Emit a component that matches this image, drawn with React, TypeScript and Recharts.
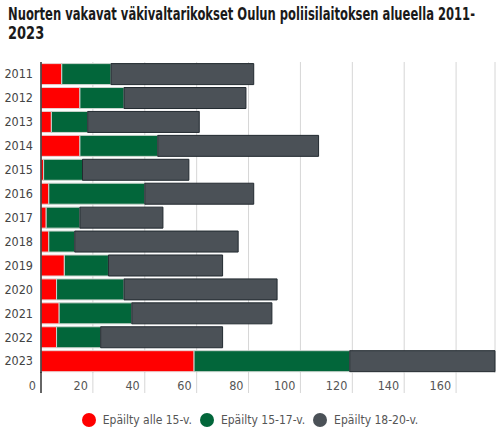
import { useLayoutEffect, useRef, useState } from "react";
import { BarChart, Bar, XAxis, YAxis, CartesianGrid } from "recharts";

const FONT = "'Liberation Sans Narrow', 'DejaVu Sans Condensed', Roboto, sans-serif";

const years = ["2011", "2012", "2013", "2014", "2015", "2016", "2017", "2018", "2019", "2020", "2021", "2022", "2023"];
const under15 = [8, 15, 4, 15, 1, 3, 2, 3, 9, 6, 7, 6, 59];
const age15to17 = [19, 17, 14, 30, 15, 37, 13, 10, 17, 26, 28, 17, 60];
const age18to20 = [55, 47, 43, 62, 41, 42, 32, 63, 44, 59, 54, 47, 56];
const xTicks = [0, 20, 40, 60, 80, 100, 120, 140, 160];

const titleLines = ["Nuorten vakavat väkivaltarikokset Oulun poliisilaitoksen alueella 2011-", "2023"];

const series = [
  { key: "under15", name: "Epäilty alle 15-v.", color: "#ff0000", stroke: "#e8d0d0" },
  { key: "age15to17", name: "Epäilty 15-17-v.", color: "#02663a", stroke: "#c9d4cd" },
  { key: "age18to20", name: "Epäilty 18-20-v.", color: "#4b5157", stroke: "#222a30" },
];

const data = years.map((year, i) => ({
  year,
  under15: under15[i],
  age15to17: age15to17[i],
  age18to20: age18to20[i],
}));

function XTick({ x, y, payload }: any) {
  const zero = payload.value === 0;
  return (
    <g>
      <line
        x1={x}
        x2={x}
        y1={y - 1}
        y2={y + 20}
        stroke={zero ? "#333" : "#d6d6d6"}
        strokeWidth={zero ? 1.5 : 1}
      />
      <text x={x - 5} y={y + 17} textAnchor="end" fontSize={12.5} fill="#555" fontFamily={FONT}>
        {payload.value}
      </text>
    </g>
  );
}

// squeeze the first title line to the width it has in the original layout
function Title() {
  const ref = useRef<HTMLSpanElement>(null);
  const [k, setK] = useState(1);
  useLayoutEffect(() => {
    if (ref.current) {
      const w = ref.current.offsetWidth;
      if (w > 0) setK(467 / w);
    }
  }, []);
  const line = {
    display: "block",
    whiteSpace: "nowrap" as const,
    fontFamily: FONT,
    fontSize: 17,
    fontWeight: "bold" as const,
    color: "#1a1a1a",
    lineHeight: "19px",
  };
  return (
    <div style={{ position: "absolute", left: 8, top: 5 }}>
      <span
        ref={ref}
        style={{ ...line, display: "inline-block", transform: `scaleX(${k})`, transformOrigin: "left center" }}
      >
        {titleLines[0]}
      </span>
      <span style={{ ...line, transform: `scaleX(${Math.max(k, 0.85)})`, transformOrigin: "left center" }}>
        {titleLines[1]}
      </span>
    </div>
  );
}

export default function App() {
  return (
    <div style={{ position: "absolute", left: 0, top: 0, width: 500, height: 435, background: "#fff" }}>
      <Title />
      <div style={{ position: "absolute", left: 0, top: 0 }}>
        <BarChart
          width={500}
          height={435}
          data={data}
          layout="vertical"
          margin={{ top: 62, right: 5, bottom: 42, left: 8 }}
          barCategoryGap={1.6}
        >
          <CartesianGrid horizontal={false} stroke="#d6d6d6" />
          <XAxis
            type="number"
            domain={[0, 175]}
            ticks={xTicks}
            height={20}
            axisLine={false}
            tickLine={false}
            tickSize={0}
            tickMargin={0}
            tick={<XTick />}
            interval={0}
          />
          <YAxis
            type="category"
            dataKey="year"
            width={33}
            axisLine={{ stroke: "#333", strokeWidth: 1.5 }}
            tickLine={false}
            tickSize={0}
            tickMargin={8}
            interval={0}
            tick={{ fontSize: 12.5, fill: "#444", fontFamily: FONT }}
          />
          {series.map((s) => (
            <Bar
              key={s.key}
              dataKey={s.key}
              name={s.name}
              stackId="a"
              fill={s.color}
              stroke={s.stroke}
              strokeWidth={1}
              isAnimationActive={false}
            />
          ))}
        </BarChart>
      </div>
      <div
        style={{
          position: "absolute",
          left: 0,
          top: 413,
          width: 500,
          display: "flex",
          justifyContent: "center",
          alignItems: "center",
          fontFamily: FONT,
          fontSize: 12,
          color: "#555",
        }}
      >
        {series.map((s, i) => (
          <div key={s.key} style={{ display: "flex", alignItems: "center", marginLeft: i ? 8 : 0 }}>
            <span
              style={{
                width: 14,
                height: 14,
                borderRadius: "50%",
                background: s.color,
                display: "inline-block",
                marginRight: 7,
              }}
            />
            <span>{s.name}</span>
          </div>
        ))}
      </div>
    </div>
  );
}
